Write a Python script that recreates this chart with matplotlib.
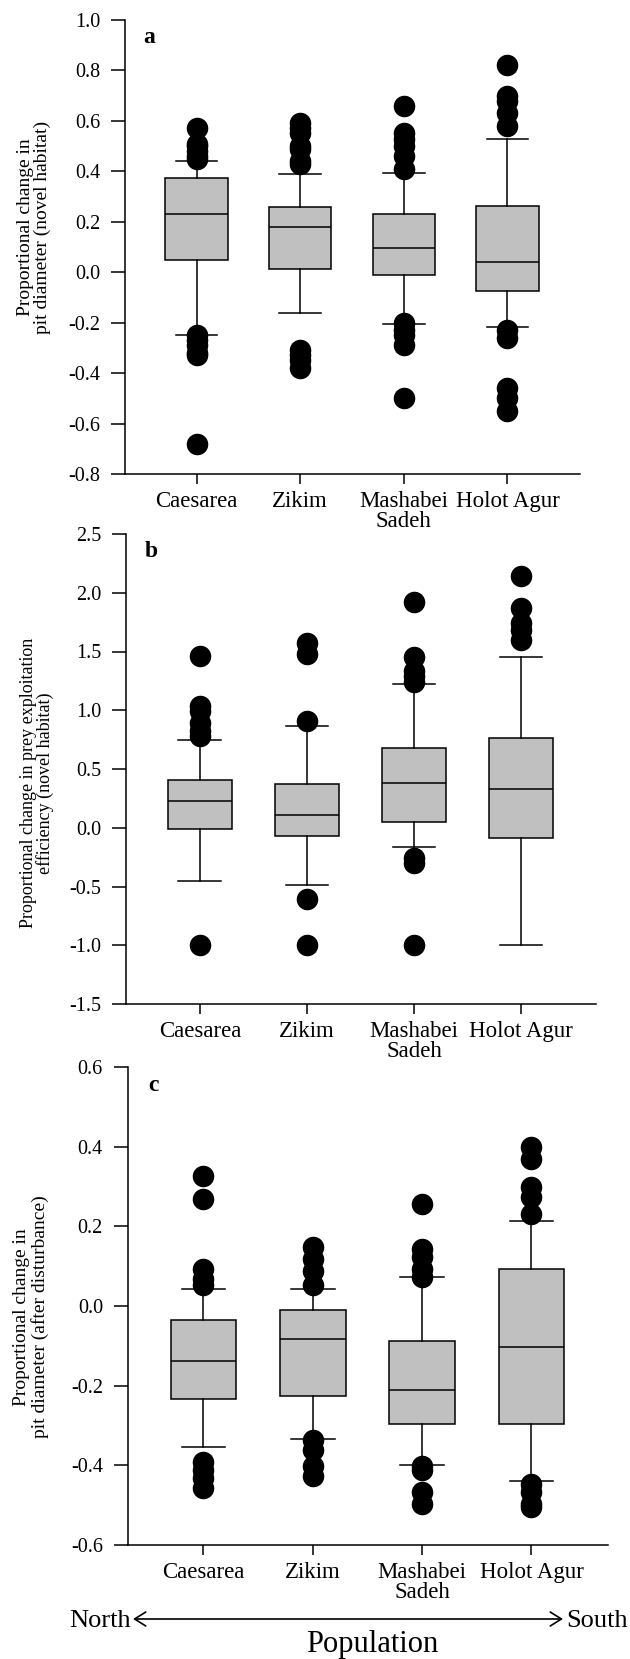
import matplotlib.pyplot as plt
from matplotlib.patches import FancyArrowPatch

plt.rcParams['font.family'] = ['Liberation Serif', 'DejaVu Serif']
plt.rcParams['axes.unicode_minus'] = False

populations = ["Caesarea", "Zikim", "Mashabei\nSadeh", "Holot Agur"]

# ---- panel a: pit diameter, novel habitat ----
a_q1 = [0.048, 0.014, -0.011, -0.075]
a_med = [0.230, 0.179, 0.096, 0.040]
a_q3 = [0.373, 0.258, 0.232, 0.261]
a_lo = [-0.247, -0.162, -0.205, -0.217]
a_hi = [0.441, 0.391, 0.394, 0.528]
a_out = [[0.57, 0.51, 0.50, 0.48, 0.46, 0.45, -0.25, -0.27, -0.29, -0.32, -0.33, -0.68],
         [0.59, 0.57, 0.55, 0.50, 0.49, 0.44, 0.43, -0.31, -0.33, -0.35, -0.38],
         [0.66, 0.55, 0.53, 0.50, 0.46, 0.41, -0.20, -0.23, -0.25, -0.29, -0.50],
         [0.82, 0.70, 0.68, 0.63, 0.58, -0.23, -0.26, -0.46, -0.50, -0.55]]

# ---- panel b: prey exploitation efficiency ----
b_q1 = [-0.011, -0.074, 0.051, -0.088]
b_med = [0.229, 0.108, 0.379, 0.334]
b_q3 = [0.410, 0.371, 0.680, 0.764]
b_lo = [-0.453, -0.490, -0.161, -1.0]
b_hi = [0.745, 0.869, 1.226, 1.452]
b_out = [[1.46, 1.04, 0.99, 0.89, 0.82, 0.78, -1.0],
         [1.57, 1.48, 0.91, -0.61, -1.0],
         [1.92, 1.45, 1.33, 1.29, 1.24, -0.26, -0.30, -1.0],
         [2.14, 1.87, 1.74, 1.68, 1.60]]

# ---- panel c: pit diameter after disturbance ----
c_q1 = [-0.233, -0.226, -0.295, -0.295]
c_med = [-0.139, -0.084, -0.211, -0.102]
c_q3 = [-0.036, -0.011, -0.088, 0.092]
c_lo = [-0.354, -0.335, -0.399, -0.440]
c_hi = [0.043, 0.042, 0.072, 0.213]
c_out = [[0.326, 0.269, 0.093, 0.068, 0.053, -0.392, -0.411, -0.431, -0.456],
         [0.147, 0.118, 0.088, 0.053, -0.337, -0.362, -0.402, -0.426],
         [0.256, 0.144, 0.123, 0.093, 0.073, -0.402, -0.411, -0.466, -0.496],
         [0.400, 0.368, 0.300, 0.273, 0.231, -0.446, -0.466, -0.496, -0.505]]

W, H = 630, 1659
fig = plt.figure(figsize=(W / 100, H / 100), dpi=100)


def px_rect(left, top, right, bottom):
    return [left / W, 1 - bottom / H, (right - left) / W, (bottom - top) / H]


def draw_panel(rect, q1, med, q3, lo, hi, out, ylim, yticks, letter):
    ax = fig.add_axes(rect)
    stats = []
    for i in range(len(populations)):
        stats.append(dict(q1=q1[i], med=med[i], q3=q3[i], whislo=lo[i], whishi=hi[i], fliers=out[i]))
    lw = 1.1
    ax.bxp(stats, positions=[1, 2, 3, 4], widths=0.6, capwidths=0.4, patch_artist=True,
           boxprops=dict(facecolor='#c0c0c0', edgecolor='black', linewidth=lw),
           medianprops=dict(color='black', linewidth=lw),
           whiskerprops=dict(color='black', linewidth=lw),
           capprops=dict(color='black', linewidth=lw),
           flierprops=dict(marker='o', markerfacecolor='black', markeredgecolor='black', markersize=14.5))
    ax.set_xlim(0.31, 4.70)
    ax.set_ylim(*ylim)
    ax.set_yticks(yticks)
    ax.set_yticklabels(['%.1f' % v for v in yticks])
    ax.set_xticks([1, 2, 3, 4])
    ax.set_xticklabels(populations)
    for lbl in ax.get_xticklabels():
        lbl.set_linespacing(0.95)
    ax.spines['top'].set_visible(False)
    ax.spines['right'].set_visible(False)
    ax.spines['left'].set_linewidth(lw)
    ax.spines['bottom'].set_linewidth(lw)
    ax.tick_params(axis='y', direction='out', length=10, width=lw, pad=8, labelsize=14.5)
    ax.tick_params(axis='x', direction='out', length=7, width=lw, pad=5, labelsize=16.5)
    ax.text(0.053, 0.962, letter, transform=ax.transAxes, fontweight='bold', fontsize=17,
            ha='center', va='center')
    return ax


draw_panel(px_rect(125, 20, 580, 474), a_q1, a_med, a_q3, a_lo, a_hi, a_out,
           (-0.8, 1.0), [-0.8, -0.6, -0.4, -0.2, 0.0, 0.2, 0.4, 0.6, 0.8, 1.0], 'a')
draw_panel(px_rect(126, 534, 596, 1004), b_q1, b_med, b_q3, b_lo, b_hi, b_out,
           (-1.5, 2.5), [-1.5, -1.0, -0.5, 0.0, 0.5, 1.0, 1.5, 2.0, 2.5], 'b')
draw_panel(px_rect(128, 1067, 608, 1545), c_q1, c_med, c_q3, c_lo, c_hi, c_out,
           (-0.6, 0.6), [-0.6, -0.4, -0.2, 0.0, 0.2, 0.4, 0.6], 'c')

# y axis labels
fig.text(34 / W, 1 - 227 / H, "Proportional change in\npit diameter (novel habitat)",
         rotation=90, ha='center', va='center', fontsize=14, linespacing=1.05)
fig.text(37 / W, 1 - 783 / H, "Proportional change in prey exploitation\nefficiency (novel habitat)",
         rotation=90, ha='center', va='center', fontsize=13, linespacing=1.0)
fig.text(31 / W, 1 - 1317 / H, "Proportional change in\npit diameter (after disturbance)",
         rotation=90, ha='center', va='center', fontsize=14, linespacing=1.1)

# north-south arrow and axis title
arrow_y = 1 - 1619 / H
fig.add_artist(FancyArrowPatch((133 / W, arrow_y), (563 / W, arrow_y), transform=fig.transFigure,
                               arrowstyle='<->,head_length=8,head_width=5', mutation_scale=1,
                               shrinkA=0, shrinkB=0, lw=1.2, color='black'))
fig.text(131 / W, 1 - 1621 / H, "North", ha='right', va='center', fontsize=19)
fig.text(566 / W, 1 - 1621 / H, "South", ha='left', va='center', fontsize=19)
fig.text(372 / W, 1 - 1652 / H, "Population", ha='center', va='baseline', fontsize=22)

fig.savefig("out.png", dpi=100)
